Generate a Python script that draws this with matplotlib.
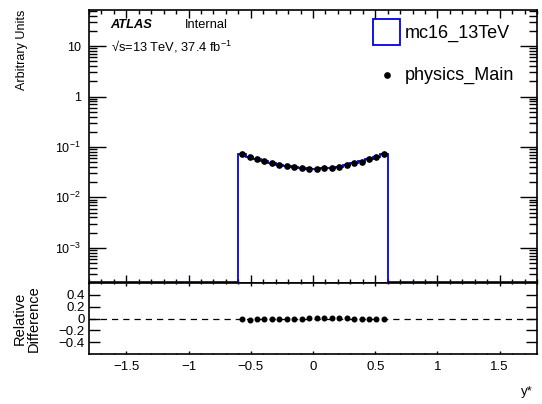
import numpy as np
import matplotlib
matplotlib.use("Agg")
import matplotlib.pyplot as plt
from matplotlib.ticker import FixedLocator, MultipleLocator, LogLocator, NullFormatter
from matplotlib.lines import Line2D
from matplotlib.patches import Rectangle

plt.rcParams['font.family'] = ['Liberation Sans', 'DejaVu Sans']
plt.rcParams['mathtext.fontset'] = 'custom'
plt.rcParams['mathtext.rm'] = 'Liberation Sans'
plt.rcParams['mathtext.it'] = 'Liberation Sans:italic'

# Normalised y* distribution, 20 bins between -0.6 and 0.6
bin_lo = -0.6
bin_hi = 0.6
n_bins = 20
mc_values = [0.0716, 0.0634, 0.0569, 0.0520, 0.0474, 0.0439, 0.0413, 0.0395,
             0.0383, 0.0371, 0.0366, 0.0377, 0.0388, 0.0406, 0.0439, 0.0474,
             0.0515, 0.0569, 0.0634, 0.0716]
data_values = [0.0716, 0.0632, 0.0568, 0.0519, 0.0474, 0.0439, 0.0413, 0.0396,
               0.0384, 0.0373, 0.0368, 0.0379, 0.0390, 0.0407, 0.0440, 0.0474,
               0.0514, 0.0566, 0.0631, 0.0713]
rel_diff = [-0.015, -0.02, -0.015, -0.012, -0.01, -0.008, -0.005, -0.002,
            0.0, 0.003, 0.008, 0.01, 0.008, 0.005, 0.002, -0.002,
            -0.005, -0.01, -0.015, -0.015]

x_range = (-1.8, 1.8)
y_range = (2.0e-4, 52.0)
ratio_range = (-0.6, 0.6)

W, H = 542, 404
fig = plt.figure(figsize=(W / 100, H / 100), dpi=100)
L, R = 89, 537
ax = fig.add_axes([L / W, 1 - 283 / H, (R - L) / W, (283 - 10) / H])
axr = fig.add_axes([L / W, 1 - 354 / H, (R - L) / W, (354 - 283) / H])

# Full-range binning; empty bins sit on the axis minimum as on a log plot
width = (bin_hi - bin_lo) / n_bins
n_left = int(round((bin_lo - x_range[0]) / width))
n_right = int(round((x_range[1] - bin_hi) / width))
edges = x_range[0] + width * np.arange(n_left + n_bins + n_right + 1)
full_mc = np.concatenate([np.zeros(n_left), mc_values, np.zeros(n_right)])
drawn = np.where(full_mc > 0, full_mc, y_range[0] * 1.06)
ax.stairs(drawn, edges, color='#0000ee', lw=1.3, baseline=None, zorder=2)

centers = bin_lo + width * (np.arange(n_bins) + 0.5)
ax.plot(centers, data_values, 'o', color='black', ms=3.8, zorder=3)

ax.set_yscale('log')
ax.set_xlim(*x_range)
ax.set_ylim(*y_range)
ax.yaxis.set_major_locator(FixedLocator([1e-3, 1e-2, 1e-1, 1, 10]))
ax.yaxis.set_minor_locator(LogLocator(base=10, subs=np.arange(2, 10), numticks=20))
ax.yaxis.set_minor_formatter(NullFormatter())
ax.set_yticklabels([r'$10^{-3}$', r'$10^{-2}$', r'$10^{-1}$', '1', '10'])
ax.xaxis.set_major_locator(MultipleLocator(0.5))
ax.xaxis.set_minor_locator(MultipleLocator(0.1))
ax.tick_params(axis='x', labelbottom=False)
ax.tick_params(which='both', direction='in', top=True, right=True, width=1.0)
ax.tick_params(axis='y', which='major', length=12.5, labelsize=9, pad=6)
ax.tick_params(axis='y', which='minor', length=6)
ax.tick_params(axis='x', which='major', length=5.5)
ax.tick_params(axis='x', which='minor', length=2.8)
for s in ax.spines.values():
    s.set_linewidth(1.2)

ax.set_ylabel('Arbitrary Units', fontsize=9, loc='top')
ax.yaxis.set_label_coords(-0.137, 1.0)

# ATLAS label block
fig.text(110 / W, 1 - 25 / H, 'ATLAS', fontsize=9.3, fontweight='bold',
         fontstyle='italic', va='center', ha='left')
fig.text(185 / W, 1 - 25 / H, 'Internal', fontsize=9.3, va='center', ha='left')
fig.text(111 / W, 1 - 47 / H, '\u221As=13 TeV, 37.4 fb$^{\\mathrm{-1}}$',
         fontsize=9.3, va='center', ha='left')

# Legend drawn by hand
ax.add_patch(Rectangle((373 / W, 1 - 45 / H), 27 / W, 26 / H, transform=fig.transFigure,
                       fill=False, edgecolor='#0000ee', lw=1.3, clip_on=False))
fig.text(405 / W, 1 - 33 / H, 'mc16_13TeV', fontsize=13, va='center', ha='left')
fig.add_artist(Line2D([387 / W], [1 - 75 / H], marker='o', color='black', ms=3.8,
                      transform=fig.transFigure))
fig.text(405 / W, 1 - 75 / H, 'physics_Main', fontsize=13, va='center', ha='left')

# Relative difference panel
axr.axhline(0, color='black', lw=0.9, dashes=(5, 4), zorder=1)
axr.plot(centers, rel_diff, 'o', color='black', ms=3.3, zorder=3)
axr.set_xlim(*x_range)
axr.set_ylim(*ratio_range)
axr.yaxis.set_major_locator(FixedLocator([-0.4, -0.2, 0, 0.2, 0.4]))
axr.set_yticklabels(['\u22120.4', '\u22120.2', '0', '0.2', '0.4'])
xt = [-1.5, -1, -0.5, 0, 0.5, 1, 1.5]
axr.xaxis.set_major_locator(FixedLocator(xt))
axr.xaxis.set_minor_locator(MultipleLocator(0.1))
axr.set_xticklabels([('\u2212' if v < 0 else '') + ('%g' % abs(v)) for v in xt])
axr.tick_params(which='both', direction='in', top=True, right=True, width=1.0)
axr.tick_params(axis='y', which='major', length=8, labelsize=9.5, pad=3)
axr.tick_params(axis='x', which='major', length=2, labelsize=9.5, pad=5)
axr.tick_params(axis='x', which='minor', length=1)
for s in axr.spines.values():
    s.set_linewidth(1.2)
axr.set_ylabel('Relative\nDifference', fontsize=10.5, linespacing=1.0)
axr.yaxis.set_label_coords(-0.108, 0.5)

fig.text(533 / W, 1 - 392 / H, 'y*', fontsize=9.5, va='center', ha='right')

fig.savefig('out.png', dpi=100)
